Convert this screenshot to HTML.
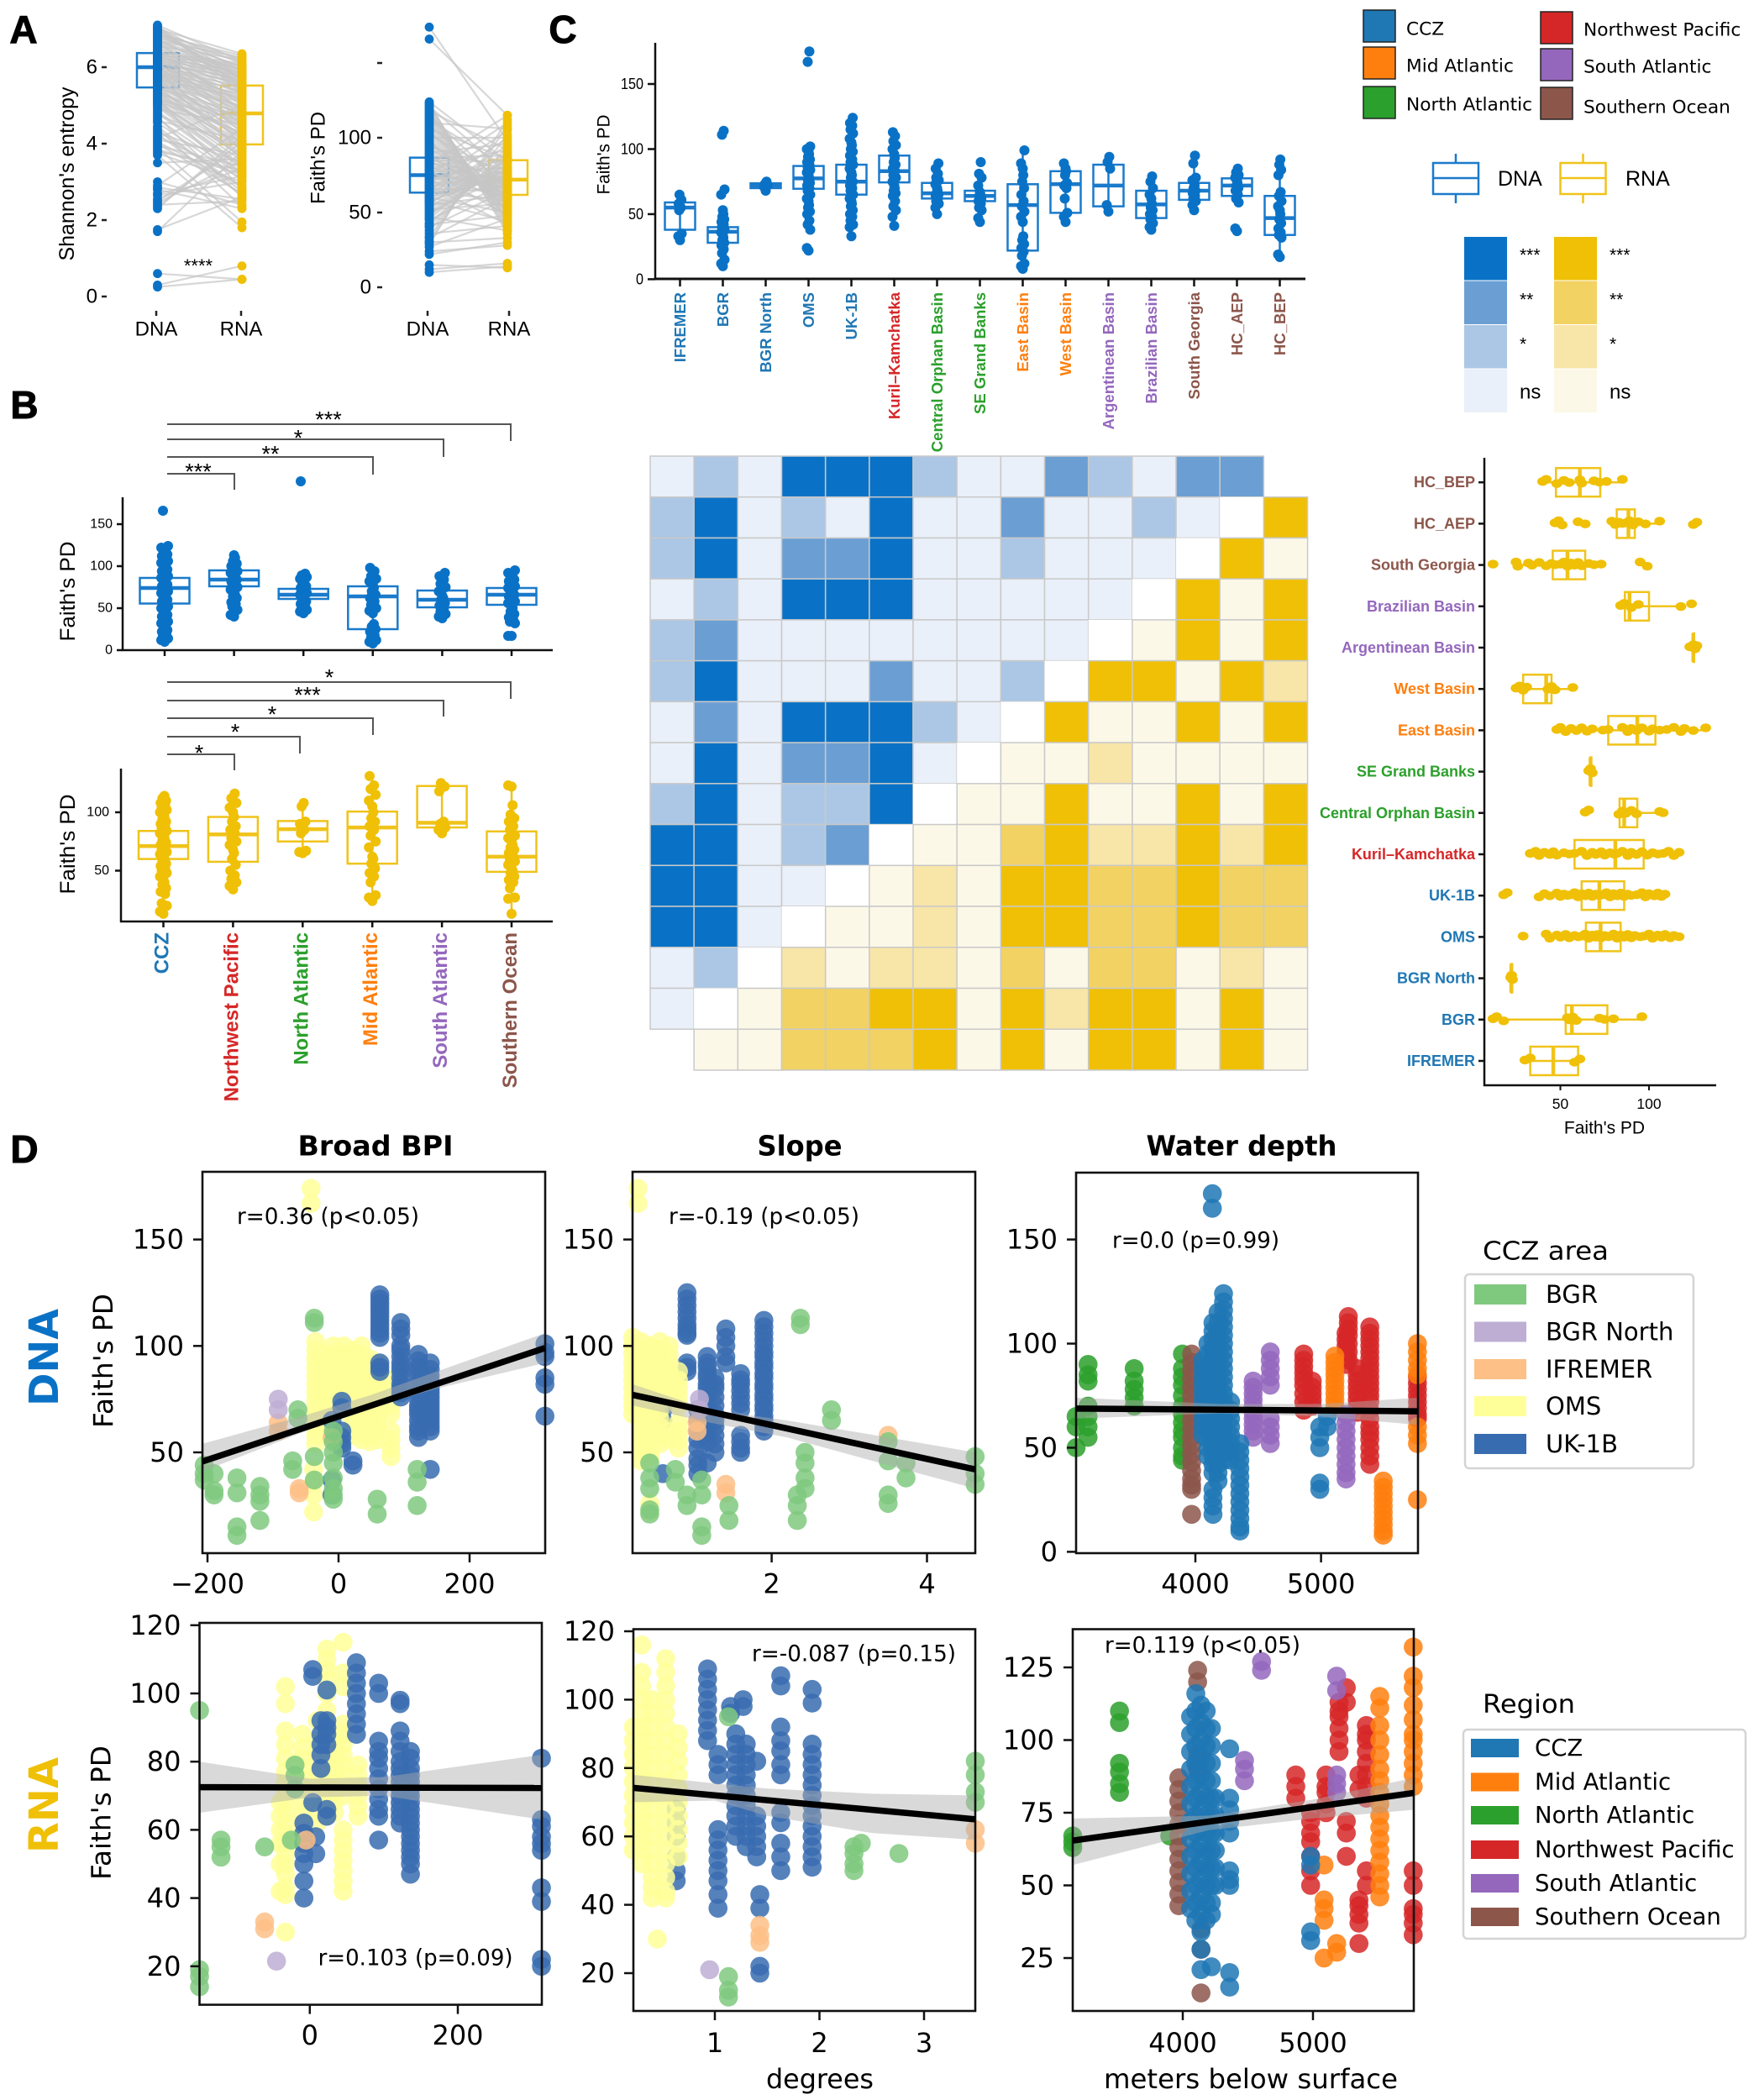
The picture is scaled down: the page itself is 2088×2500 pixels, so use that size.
<!DOCTYPE html>
<html lang="en">
<head>
<meta charset="utf-8">
<title>Faith's PD and Shannon's entropy across deep-sea regions</title>
<style>
html,body{margin:0;padding:0;background:#fff;}
svg{display:block;}
text{dominant-baseline:central;}
</style>
</head>
<body>
<svg id="figure" xmlns="http://www.w3.org/2000/svg" width="2088" height="2500" viewBox="0 0 2088 2500">
<rect x="0" y="0" width="2088" height="2500" fill="#ffffff"/>
<g id="panel-a"></g>
<g id="panel-b"></g>
<g id="panel-c"></g>
<g id="panel-d"></g>
<g id="legends"></g>
</svg>
<script>
/* ---------- shared categories ---------- */
const regionNames=["CCZ","Northwest Pacific","North Atlantic","Mid Atlantic","South Atlantic","Southern Ocean"];
const siteNames=["IFREMER","BGR","BGR North","OMS","UK-1B","Kuril–Kamchatka","Central Orphan Basin","SE Grand Banks","East Basin","West Basin","Argentinean Basin","Brazilian Basin","South Georgia","HC_AEP","HC_BEP"];
const legendRegions=["CCZ","Mid Atlantic","North Atlantic","Northwest Pacific","South Atlantic","Southern Ocean"];
const areaNames=["BGR","BGR North","IFREMER","OMS","UK-1B"];

/* ---------- panel A: paired samples ---------- */
const shannonTicks=[0,2,4,6];
const shannonDnaCore=[0.25,0.3,0.6,1.7,1.75,2.3,2.4,2.5,2.65,2.8,2.9,3.0,3.5,3.7,3.8,3.9,4.0,4.05,4.15,4.2,4.3,4.4,4.6,4.7,4.75,4.8,4.9,5.0,5.05,5.1,5.15,5.2,5.25,5.3,5.35,5.4,5.45,5.5,5.52,5.55,5.6,5.65,5.7,5.72,5.75,5.78,5.8,5.82,5.85,5.88,5.9,5.92,5.95,5.98,6.0,6.02,6.05,6.08,6.1,6.12,6.15,6.18,6.2,6.22,6.25,6.28,6.3,6.32,6.35,6.38,6.4,6.45,6.5,6.55,6.6,6.65,6.7,6.75,6.8,6.85,6.9,6.95,7.0,7.05,7.1];
const shannonRnaCore=[0.45,0.8,0.45,3.8,2.6,4.2,2.5,3.9,3.0,2.3,4.4,2.4,3.6,1.8,3.3,1.95,2.7,2.9,5.0,3.1,3.5,2.35,4.1,2.6,3.9,3.2,4.5,3.4,3.7,4.3,4.6,2.8,4.0,4.7,3.9,4.2,4.8,4.5,3.6,5.0,4.1,4.4,5.2,4.6,3.8,5.3,4.9,4.2,5.4,4.7,5.1,4.0,5.5,4.8,5.6,4.3,5.2,4.9,5.7,4.5,5.3,5.8,4.7,5.5,5.9,4.9,5.6,6.0,5.1,5.7,6.1,5.3,5.8,6.2,5.5,5.9,6.25,5.6,6.0,6.3,5.7,6.1,6.35,5.9,6.15];
const shannonDnaExtra=[4.45,4.55,4.65,4.85,4.95,5.02,5.08,5.12,5.18,5.22,5.28,5.32,5.38,5.42,5.48,5.58,5.62,5.68,5.74,5.76,5.83,5.86,5.93,5.96,6.03,6.06,6.13,6.16,6.23,6.26,6.33,6.36,6.42,6.48,6.52,6.58,6.62,6.68,6.72,6.78,6.82,6.88,6.92,6.98,7.02,7.08,3.75,3.85,3.95,4.1,4.25,4.35,2.35,2.45,2.55,2.7,2.85];
const shannonRnaExtra=[2.75,3.05,3.15,3.25,3.35,3.45,3.55,3.65,3.75,3.85,3.95,4.05,4.15,4.25,4.35,4.45,4.55,4.65,4.75,4.85,4.95,5.05,5.15,5.25,5.35,5.45,5.55,5.65,5.75,5.85,5.95,6.05,5.02,4.88,5.42,5.58,5.72,5.82,5.92,6.02,6.12,6.22,5.68,5.78,5.48,5.32,3.0,3.2,3.4,3.7,2.65,2.85,4.05,3.55,3.35,3.15,2.55];
const shannonDnaBox=[5.47,6.0,6.37];
const shannonRnaBox=[3.98,4.79,5.52];
const pdPairTicks=[0,50,100];
const pdPairDnaCore=[10,12,15,22,24,27,30,33,36,40,42,45,47,50,52,54,55,56,58,59,60,61,62,63,64,65,66,67,68,69,70,71,72,73,74,75,76,77,78,79,80,81,82,83,84,85,86,87,88,90,92,94,96,98,100,102,104,106,108,110,112,115,118,121,124,166,174];
const pdPairRnaCore=[14,16,13,30,28,46,33,60,41,65,48,70,38,75,56,82,62,85,44,90,50,68,95,72,58,100,64,78,42,105,70,53,86,74,60,110,66,80,48,92,72,56,115,76,62,84,68,88,58,96,70,78,64,52,100,74,60,86,68,106,80,66,92,76,84,115,98];
const pdPairDnaExtra=[29,31,34,38,41,43,46,48,49,51,53,57,57.5,58.5,60.5,62.5,64.5,66.5,68.5,70.5,72.5,74.5,76.5,78.5,80.5,82.5,84.5,86.5,89,91,93,95,97,99,101,103,105,107,109,111,113,114,116,117,119,120,122,123];
const pdPairRnaExtra=[112,108,102,94,90,88,86,84,82,80,79,78,77,76,75,74,73,72,71,70,69,68,67,66,65,64,63,62,61,60,59,58,57,56,55,54,52,51,50,49,47,46,45,44,42,40,38,36];
const pdPairDnaBox=[63.3,75,86.7];
const pdPairRnaBox=[61.8,72,85];

/* ---------- panel B: regions ---------- */
const regionDnaTicks=[0,50,100,150];
const regionDnaValues=[
[10,12,14,17,20,22,24,26,28,30,32,34,36,38,40,42,44,46,48,50,52,54,56,58,60,62,64,66,68,70,72,74,76,78,80,82,84,86,88,90,92,94,96,98,100,102,104,106,108,110,112,114,116,118,120,122,124,166],
[40,42,48,52,55,57,62,64,66,70,72,75,78,80,82,84,86,88,90,92,94,96,98,100,103,106,110,113],
[44,46,48,50,52,55,58,60,62,64,66,68,70,72,74,76,78,80,82,85,87,89,91,201],
[8,10,12,15,18,22,25,28,31,44,47,50,54,58,62,66,70,74,78,82,85,88,94,98],
[38,40,43,46,50,53,56,60,62,65,70,75,79,84,88,92],
[17,17,32,34,36,39,43,46,50,53,56,58,60,62,64,66,68,70,72,74,76,78,80,82,84,86,88,90,92,95]];
const regionDnaBoxes=[[55.5,74,86],[76,84,95],[61,66,73],[25,64,76],[51,60,71],[54,66,74]];
const regionRnaTicks=[50,100];
const regionRnaValues=[
[13,15,20,22,30,32,35,38,40,42,45,48,50,52,54,56,58,60,62,64,66,68,70,72,74,76,78,80,82,84,86,88,90,92,94,96,98,100,102,104,106,108,110,112,114],
[34,37,40,43,46,50,55,60,65,68,72,75,78,82,85,88,92,96,100,104,108,112,116],
[65,66,67,82,85,90,92,105,108],
[24,27,29,40,45,48,52,56,60,62,70,75,80,85,88,92,95,100,105,110,115,120,123,131],
[82,85,87,90,92,118,122,125],
[13,26,27,35,40,42,45,48,50,52,55,58,60,62,65,68,70,72,75,78,80,85,88,92,95,98,106,122,123]];
const regionRnaBoxes=[[60,71,84],[57.6,81,96],[75,85.5,92.5],[56,87,100.6],[87,91,122.5],[49,62,83.6]];

/* ---------- panel C: sites, DNA (vertical) and RNA (horizontal) ---------- */
const siteDnaTicks=[0,50,100,150];
const siteDnaValues=[
[30,33,35,53,55,58,61,65],
[10,12,15,20,23,26,28,30,32,34,36,38,40,42,44,46,48,50,53,65,69,111,114],
[68,71,72,73,75],
[22,24,38,42,45,50,52,55,57,60,62,65,68,70,72,74,76,78,80,82,84,86,88,90,92,94,96,98,100,102,167,175],
[33,40,42,45,48,50,53,56,58,60,62,65,68,70,72,75,78,80,82,85,88,90,92,95,98,100,103,105,108,112,115,118,120,124],
[41,48,53,56,60,64,66,68,70,72,75,78,80,83,85,88,90,93,96,100,103,106,110,113],
[50,55,58,60,62,64,65,66,68,70,73,76,78,81,85,89],
[44,47,53,55,58,60,62,64,65,67,72,78,81,90],
[8,10,12,18,21,24,27,30,33,44,48,52,56,60,65,70,75,80,85,89,99],
[44,48,51,62,70,72,74,80,83,85,89],
[52,57,85,90,94],
[38,40,43,46,48,50,53,55,58,62,65,70,75,79],
[53,57,60,62,64,66,68,70,72,74,76,78,89,95],
[37,39,59,62,65,68,70,72,74,76,78,80,82,85],
[17,19,32,34,36,39,43,46,50,53,56,60,64,67,80,84,88,92]];
const siteDnaBoxes=[[38,55,59],[28,36.5,40],[70,72,73.7],[69.5,77.5,87],[65,75,88],[74.4,83,95],[62,66,74],[60,64,68],[22,57,73],[51,73,83],[56,72,88],[47,57.5,68],[61,68,74],[64,72,77.5],[34,47,64]];
const siteRnaTicks=[50,100];
const siteRnaValues=[
[30,33,58,61],
[12,14,18,54,55,57,59,72,75,80,96],
[22,22.5,23],
[29,42,44,48,50,53,55,58,60,62,64,66,68,70,71,73,75,77,78,80,82,84,86,88,90,92,95,97,100,102,105,107,109,112,114,117],
[18,20,38,41,44,48,50,52,54,56,58,60,62,64,66,68,70,72,74,76,78,80,82,84,86,88,90,93,96,98,100,103,105,107,109],
[33,36,38,41,44,46,48,52,55,58,62,65,68,70,73,75,78,80,82,85,88,90,93,96,99,102,105,108,111,114,117],
[64,66,83,85,87,90,93,106,108],
[66,67,68],
[48,50,53,56,59,62,65,68,74,77,85,88,90,93,96,100,102,106,110,114,118,120,125,132],
[25,27,29,31,43,45,47,57],
[123,125,126,127],
[84,86,90,94,118,124],
[12,25,26,32,34,38,42,45,47,50,52,54,56,58,60,62,66,69,73,95,99],
[47,49,51,60,64,79,81,83,85,87,89,91,94,98,106,125,127],
[40,42,48,52,55,61,62,69,72,76,85]];
const siteRnaBoxes=[[33,46,60],[53,56.5,76.5],[22.3,22.3,22.3],[64.4,72.7,84],[62,72,86],[58,81,97],[83.4,86,93.4],[67,67,67],[77,93.4,103.6],[29,42,45],[125,125,125],[86.4,89,100],[45.7,54,64],[81.8,88.4,92],[47.5,61,72.5]];
/* significance: n,1,2,3 = DNA ns,*,**,***; y,a,b,c = RNA ns,*,**,***; . = diagonal */
const significanceRows=["n1n3331nn21n22 ","13n1n3nn2nn1n.c","13n223nn1nnn.cy","n1n333nnnnn.cyc","12nnnnnnnn.ycyc","13nnn2nn1.ccyca","n2n3331n.cyycyc","n3n223n.yyayyyy","13n113.yycyycyc","33n12.yybcaacac","33nn.yayccbbcbb","33n.yyayccbbcbb","n1.ayaaybybbyay","n.ybbccycaccycy"," yybbbcycyccycy"];
const significanceKeyLabels=["***","**","*","ns"];

/* ---------- panel D: scatter columns as [x,[y,...]] ---------- */
const bpiDnaBgr=[[-205,[44,40,37]],[-190,[40,32,30]],[-155,[38,31,15,11]],[-120,[34,30,27,18]],[-70,[46,42]],[-62,[70,66]],[-37,[113,111,48,37]],[-8,[60,55,50,45,38,33,30,28]],[59,[28,21]],[120,[42,36,25]]];
const bpiDnaNorth=[[-92,[75,70]]];
const bpiDnaIfremer=[[-92,[64,60]],[-60,[33,31]],[-10,[57]]];
const bpiDnaOms=[[-42,[174,167]],[-38,[42,36,30,22]],[-35,[102,98,94,90,86,82,78,74,70,66,62,58,54]],[-22,[96,92,88,84,80,76,72,68,64]],[-8,[100,96,92,88,84,80,76,72,68,64,60]],[8,[100,96,92,88,84,80,76]],[22,[98,94,90,86,82,78,74,70,66,62,58]],[35,[100,96,92,88,84,80,76,72,68,64,60,56]],[48,[94,90,86,82,78,74,70,66,62,58,55]],[60,[92,88,84,80,76,72,68,64,60,56]],[80,[84,80,72,68,60,56,52,48]]];
const bpiDnaUk=[[63,[124,122,120,118,116,114,112,110,108,106,104,92,90,88]],[95,[111,108,105,100,98,95,92,90,88,85,82,80,78,76]],[122,[96,93,90,88,85,82,80,78,75,72,70,68,65,62,60,57]],[140,[92,89,86,83,80,78,76,74,72,70,68,66,64,62,60,42]],[5,[74,71,60,57,54,52]],[22,[46,44]],[-10,[65,37,30]],[315,[101,97,95,85,82,67]]];
const bpiDnaFit=[[-208,45.7],[315,99]];
const bpiDnaCi=[[-208,41,54],[-50,60,67.5],[50,71,77],[150,80,88],[315,92,106]];
const slopeDnaBgr=[[2.37,[113,110]],[2.77,[70,65]],[3.5,[55,46,30,26]],[2.43,[50,45,38,33]],[2.33,[30,25,18]],[3.73,[45,38]],[4.62,[48,40,35]],[0.43,[45,38,33,23,21]],[0.76,[42,36]],[0.91,[30,25]],[1.1,[37,30,15,11]],[1.45,[25,18]]];
const slopeDnaNorth=[[1.07,[75,70]]];
const slopeDnaIfremer=[[3.5,[58]],[1.41,[35,31]],[1.04,[64,60]]];
const slopeDnaOms=[[0.28,[174,167]],[0.21,[104,100,96,92,88,84,80,76,72,68]],[0.32,[102,98,94,90,86,82,78,74,70,66,62,58,54,50,46]],[0.44,[100,96,92,88,84,80,76,72,68,64,60,56,52,48]],[0.56,[102,98,94,90,86,82,78,74,70,66,62,58,54]],[0.68,[100,96,92,88,84,80,76,60,56]],[0.8,[88,84,80,76,72,64,60,56,52]],[0.43,[22,26]]];
const slopeDnaUk=[[0.91,[125,122,119,116,113,110,108,106,105,92,90,88]],[1.17,[95,92,90,87,85,82,80,77,75,70,67,65,62,60,58,55,45]],[1.05,[70,65,60,56,52,47,44,40]],[1.41,[108,104,100,95,92]],[1.6,[87,84,82,79,76,73,70,58,55,52,50]],[1.9,[112,109,106,103,100,97,95,92,90,87,85,82,80,77,75,72,70,67,65,62,60]],[1.27,[85,82,80,76,72,68,65,62,58,54,50]],[0.6,[70,65,40]]];
const slopeDnaFit=[[0.21,77],[4.62,42]];
const slopeDnaCi=[[0.21,72,82],[1.2,64,70],[2.2,57,65],[3.5,44,57],[4.62,33,50]];
const depthDnaCcz=[[4135,[172,165]],[4224,[124,120,116,112,108,104,100,96,92,88,84,80,76,72,68,64,60,56,52,48,44]],[4180,[115,110,106,102,98,94,90,86,82,78,74,70,66,62,58,54,50,46,42,38,34]],[4140,[110,106,102,98,94,90,86,82,78,74,70,66,62,58,54,50,46,42,38,30,26,22,18]],[4100,[100,95,90,86,82,78,74,70,66,62,58,54,50,46]],[4060,[92,88,84,80,76,72,68,64,60,56]],[4280,[72,68,64,60,56,52,48,44]],[4354,[52,48,44,40,36,32,28,24,20,16,12,10]],[4990,[60,55,50,33,30]],[5050,[65,60]]];
const depthDnaMid=[[5110,[94,91,88,85,82,79,76,73,70]],[5495,[34,31,28,25,22,19,16,13,10,8]],[5767,[100,96,92,88,85,60,56,52,25]]];
const depthDnaNorth=[[3146,[90,85,82,70,65,60,55]],[3051,[50,60,65]],[3513,[88,82,78,74,70]],[3897,[95,88,84,80,75,70,66,62,58,55,50,46,44]]];
const depthDnaNw=[[4862,[95,92,89,86,83,80,76,72,68]],[4930,[82,79,76,73,70]],[5199,[105,102,99,96,93,90]],[5217,[113,110,107,104,100,96,92]],[5288,[88,85,82,79,76,73,70,67]],[5388,[108,105,102,99,96,93,90,87,84,81,78,75,72,68,64,60,57,54,50,46,42]],[5767,[84,81,78,75,72,69,66,64]]];
const depthDnaSouth=[[4460,[82,79,76,73,70,67,64,61,58,55]],[4596,[96,92,88,84,80,64,60,56,52]],[5199,[66,62,58,54,50,46,42,38,35]]];
const depthDnaOcean=[[3970,[95,91,87,83,79,75,71,67,63,59,55,51,47,43,39,35,32,30,18]]];
const depthDnaFit=[[3051,68.8],[5769,67.5]];
const depthDnaCi=[[3051,64,74],[4200,66.5,71],[5000,65,71],[5769,61,74]];
const bpiRnaBgr=[[-149,[95,19,17,14]],[-120,[57,55,52]],[-61,[55]],[-20,[79,76,72]],[-25,[57]]];
const bpiRnaNorth=[[-45,[21.5]]];
const bpiRnaIfremer=[[-61,[33,31]],[-5,[57]]];
const bpiRnaOms=[[-33,[102,97,89,85,81,77,74,71,68,65,62,59,56,53,50,47,43,41,30]],[-10,[88,84,81,78,75,72,68,65,62,59,56]],[10,[92,86,83,80,77,74,71,68,65,62]],[23,[113,110,107,104,100,95,88,85,82,79,76,73,70,67,64]],[33,[86,83,80,77,74,71,68,65]],[45,[115,106,102,91,88,85,82,79,76,73,70,60,57,54,51,48,45,42]],[65,[79,76,73,70,67,64]],[-40,[68,64,60,56,50,42]]];
const bpiRnaUk=[[-8,[62,59,56,53,50,45,40]],[4,[107,105,68]],[15,[92,88,85,82,78]],[23,[101,92,90,88,85,66,64]],[63,[109,106,103,100,97,94,91,88]],[93,[103,100,86,83,81,78,75,72,69,66,64,57]],[122,[98,97,89,86,83,80,78,76,74,72,70,68,66,64,62]],[136,[83,81,78,76,74,72,70,68,66,64,62,60,58,56,54,52,50,47]],[313,[81,63,61,58,56,54,43,39,22,20]],[8,[58,53]]];
const bpiRnaFit=[[-149,72.5],[313,72.3]];
const bpiRnaCi=[[-149,65,80],[0,69.5,75],[100,70,75.5],[313,63,82]];
const slopeRnaBgr=[[1.13,[95,19,15,13]],[2.33,[57,55,52,50]],[2.4,[58]],[2.76,[55]],[3.49,[82,78,73,70]]];
const slopeRnaNorth=[[0.95,[21]]];
const slopeRnaIfremer=[[1.43,[34,31,29]],[3.49,[62,58]]];
const slopeRnaOms=[[0.22,[92,88,84,80,76,72,68,64,60,56]],[0.3,[116,108,104,100,96,92,88,84,80,76,72,68,64,60,56,52]],[0.4,[100,96,92,88,84,80,76,72,68,64,60,56,52,48,45,42]],[0.53,[112,108,104,100,96,92,88,84,80,76,72,68,64,60,56,52,48,44,42]],[0.65,[90,86,82,78,74,70,66,62,58,54]],[0.45,[30]]];
const slopeRnaUk=[[0.93,[109,106,103,100,97,94,91,88]],[1.03,[84,81,78,62,59,56,53,50,47,43,39]],[1.15,[98,96]],[1.27,[100,98]],[1.2,[90,87,84,81,78,75,72,69,66,63,60]],[1.3,[87,84,81,78,75,72,69,66,63,60,57]],[1.43,[43,39,22,20]],[1.4,[82,66,63,60,57,54]],[1.63,[107,104,92,88,85,81,78,67,64,58,54,50]],[1.93,[103,99,87,84,81,78,75,72,69,66,63,60,57,54,51]],[0.63,[54,50,47,68,64,60]]];
const slopeRnaFit=[[0.22,74.2],[3.49,65]];
const slopeRnaCi=[[0.22,70,78],[1.0,70.5,75.5],[1.5,66,74],[2.5,61,72.5],[3.49,59,72]];
const depthRnaCcz=[[4060,[108,102,96,90,84,78,72,66,60,54,48,42]],[4100,[116,110,104,98,92,86,80,74,68,62,56,50,44,38]],[4140,[112,106,100,94,88,82,76,70,64,58,52,46,40,34,28,21]],[4180,[110,104,98,92,86,80,74,68,62,56,50,44,38]],[4220,[104,98,92,86,80,74,68,62,56,50,44,40,22]],[4250,[80,74,68,62,56,50]],[4360,[97,80,76,72,68,55,52,50,20,15]],[4982,[60,57,34,31]]];
const depthRnaMid=[[5085,[57,45,42,38,25]],[5182,[30,27]],[5513,[115,111,105,100,95,90,86,82,78,74,70,66,62,58,54,50,46]],[5770,[132,122,118,112,107,102,100,96,92,88,84]]];
const depthRnaNorth=[[3155,[67,65,63]],[3514,[110,106,92,89,85,82]],[3900,[67]]];
const depthRnaNw=[[4868,[88,84,80]],[4982,[75,72,68,65,60,55,50]],[5100,[88,84,82,78,75]],[5200,[113,110,108,104,100,96]],[5256,[118,113,72,68,60]],[5353,[88,83,45,43,40,37,30]],[5410,[105,102,100,96,92,88,84,80,55,50]],[5770,[55,50,42,40,37,33]]];
const depthRnaSouth=[[4605,[127,124]],[4474,[93,90,86]],[5182,[122,117,88,85,82]]];
const depthRnaOcean=[[3970,[87,83,79,75,71,67,63,59,55,51,47,43]],[4114,[124,120,95,90]],[4140,[35,28,13]]];
const depthRnaFit=[[3155,65.4],[5774,81.8]];
const depthRnaCi=[[3155,57,73],[4200,69,74],[5000,73,79.5],[5774,76,87]];
const bpiDnaYTicks=[50,100,150];
const bpiDnaXTicks=[-200,0,200];
const slopeDnaXTicks=[2,4];
const depthDnaYTicks=[0,50,100,150];
const depthXTicks=[4000,5000];
const pdRnaYTicks=[20,40,60,80,100,120];
const bpiRnaXTicks=[0,200];
const slopeRnaXTicks=[1,2,3];
const depthRnaYTicks=[25,50,75,100,125];

/* ---------- styling and helpers ---------- */
const BLUE="#0a72c6",GOLD="#efc006",BLUE_BOX="#1a7acb",GOLD_BOX="#f0c31a";
const SANS='"Liberation Sans", sans-serif',DEJA='"DejaVu Sans", sans-serif';
const regionColors={"CCZ":"#1f77b4","Northwest Pacific":"#d62728","North Atlantic":"#2ca02c","Mid Atlantic":"#ff7f0e","South Atlantic":"#9467bd","Southern Ocean":"#8c564b"};
const areaColors={"BGR":"#7fc97f","BGR North":"#beaed4","IFREMER":"#fdc086","OMS":"#ffff99","UK-1B":"#386cb0"};
const siteColors=["#1f77b4","#1f77b4","#1f77b4","#1f77b4","#1f77b4","#d62728","#2ca02c","#2ca02c","#ff7f0e","#ff7f0e","#9467bd","#9467bd","#8c564b","#8c564b","#8c564b"];
const cellColors={n:"#eaf0f9","1":"#abc7e5","2":"#6b9fd4","3":BLUE,y:"#fcf8e8",a:"#f8e5a8",b:"#f2d262",c:GOLD,".":"#ffffff"};
const jitterCycle=[0,-1,1,-0.5,0.5,-0.8,0.8,-0.3,0.3];
const NS="http://www.w3.org/2000/svg";
function slug(s){return String(s).toLowerCase().replace(/[^a-z0-9]+/g,"-").replace(/^-|-$/g,"");}
function mk(parent,tag,attrs,name){
  const el=document.createElementNS(NS,tag);
  for(const k in attrs){el.setAttribute(k,attrs[k]);}
  
  
  parent.appendChild(el);
  return el;
}
function linear(d0,r0,d1,r1){return v=>r0+(v-d0)*(r1-r0)/(d1-d0);}
function line(p,x1,y1,x2,y2,stroke,w,name){return mk(p,"line",{x1:x1,y1:y1,x2:x2,y2:y2,stroke:stroke,"stroke-width":w},name);}
function txt(p,name,s,x,y,o){
  o=o||{};
  const a={x:x,y:y,"font-family":o.fam||SANS,"font-size":o.size||24,"font-weight":o.weight||"normal",fill:o.fill||"#000","text-anchor":o.anchor||"middle"};
  if(o.rot){a.transform="rotate("+o.rot+" "+x+" "+y+")";}
  if(o.len){a.textLength=o.len;a.lengthAdjust="spacingAndGlyphs";}
  if(o.stroke){a.stroke=o.stroke;a["stroke-width"]=o.sw||1;}
  const el=mk(p,"text",a,name);
  el.textContent=s;
  return el;
}
function stars(p,name,s,x,y,size){return txt(p,name,s,x,y+0.2*size,{size:size});}
function whiskerRange(vals,b){
  const iqr=b[2]-b[0],lo=b[0]-1.5*iqr,hi=b[2]+1.5*iqr;
  const inside=vals.filter(v=>v>=lo&&v<=hi);
  return inside.length?[Math.min.apply(null,inside),Math.max.apply(null,inside)]:[b[0],b[2]];
}
function boxV(p,name,cx,hw,y,b,vals,color){
  const g=mk(p,"g",{},name+"-box");
  const r=whiskerRange(vals,b);
  line(g,cx,y(r[0]),cx,y(r[1]),color,2.5,name+"-whisker");
  mk(g,"rect",{x:cx-hw,y:y(b[2]),width:2*hw,height:y(b[0])-y(b[2]),fill:"none",stroke:color,"stroke-width":2.5},name+"-iqr");
  line(g,cx-hw,y(b[1]),cx+hw,y(b[1]),color,4.5,name+"-median");
}
function boxH(p,name,cy,hh,x,b,vals,color){
  const g=mk(p,"g",{},name+"-box");
  const r=whiskerRange(vals,b);
  line(g,x(r[0]),cy,x(r[1]),cy,color,2.5,name+"-whisker");
  mk(g,"rect",{x:x(b[0]),y:cy-hh,width:Math.max(x(b[2])-x(b[0]),1),height:2*hh,fill:"none",stroke:color,"stroke-width":2.5},name+"-iqr");
  line(g,x(b[1]),cy-hh,x(b[1]),cy+hh,color,4.5,name+"-median");
}
function dotsV(p,name,cx,vals,y,r,color,spread){
  const g=mk(p,"g",{},name+"-points");
  vals.forEach((v,i)=>{mk(g,"circle",{cx:cx+spread*jitterCycle[i%jitterCycle.length],cy:y(v),r:r,fill:color},name+"-point");});
}
function dotsH(p,name,cy,vals,x,r,color,spread){
  const g=mk(p,"g",{},name+"-points");
  vals.forEach((v,i)=>{mk(g,"ellipse",{cx:x(v),cy:cy+spread*jitterCycle[i%jitterCycle.length],rx:r+1.2,ry:r,fill:color},name+"-point");});
}
function bracket(p,name,x0,x1,y0,y1){mk(p,"polyline",{points:x0+","+y0+" "+x1+","+y0+" "+x1+","+y1,fill:"none",stroke:"#555","stroke-width":2},name);}

const pa=document.getElementById("panel-a"),pb=document.getElementById("panel-b"),pc=document.getElementById("panel-c"),pd=document.getElementById("panel-d"),lg=document.getElementById("legends");
const LETTER={size:46,weight:"bold",stroke:"#000",sw:1};
txt(pa,"panel-letter-a","A",28,35,LETTER);
txt(pb,"panel-letter-b","B",29,482,LETTER);
txt(pc,"panel-letter-c","C",670,35,LETTER);
txt(pd,"panel-letter-d","D",29,1368,LETTER);

/* ---------- panel A ---------- */
(function(){
  const shDna=shannonDnaCore.concat(shannonDnaExtra),shRna=shannonRnaCore.concat(shannonRnaExtra);
  const pdDna=pdPairDnaCore.concat(pdPairDnaExtra),pdRna=pdPairRnaCore.concat(pdPairRnaExtra);
  const y1=linear(0,353,6,80),y2=linear(0,342,100,164);
  shannonTicks.forEach(t=>{
    line(pa,121,y1(t),127,y1(t),"#222",2.5,"shannon-y-tick");
    txt(pa,"shannon-y-tick-label",t,116,y1(t),{size:24,anchor:"end"});
  });
  txt(pa,"shannon-y-axis-title","Shannon's entropy",80,207,{size:25,rot:-90,len:207});
  boxV(pa,"shannon-dna",188,25,y1,shannonDnaBox,[],BLUE_BOX);
  boxV(pa,"shannon-rna",288,25,y1,shannonRnaBox,[],GOLD_BOX);
  const n1=Math.min(shDna.length,shRna.length);
  const lg1=mk(pa,"g",{},"shannon-pair-lines");
  for(let i=0;i<n1;i++){mk(lg1,"line",{x1:187.5,y1:y1(shDna[i]),x2:288,y2:y1(shRna[i]),stroke:"#c6c6c6","stroke-width":2.2,"stroke-opacity":0.7},"shannon-pair-line");}
  dotsV(pa,"shannon-dna",187.5,shDna,y1,5.4,BLUE,0);
  dotsV(pa,"shannon-rna",288,shRna,y1,5.4,GOLD,0);
  stars(pa,"shannon-significance","****",236,312,22);
  [[186,"DNA"],[287,"RNA"]].forEach(d=>{
    line(pa,d[0],370,d[0],376,"#222",2.5,"shannon-x-tick");
    txt(pa,"shannon-x-label-"+slug(d[1]),d[1],d[0],392,{size:24});
  });
  pdPairTicks.forEach(t=>{
    line(pa,449,y2(t),455,y2(t),"#222",2.5,"pd-pair-y-tick");
    txt(pa,"pd-pair-y-tick-label",t,442,y2(t),{size:24,anchor:"end"});
  });
  line(pa,449,y2(150),455,y2(150),"#222",2.5,"pd-pair-y-tick");
  txt(pa,"pd-pair-y-axis-title","Faith's PD",379,188,{size:24,rot:-90,len:110});
  boxV(pa,"pd-pair-dna",511,23,y2,pdPairDnaBox,[],BLUE_BOX);
  boxV(pa,"pd-pair-rna",605,23,y2,pdPairRnaBox,[],GOLD_BOX);
  const n2=Math.min(pdDna.length,pdRna.length);
  const lg2=mk(pa,"g",{},"pd-pair-lines");
  for(let i=0;i<n2;i++){mk(lg2,"line",{x1:511,y1:y2(pdDna[i]),x2:604,y2:y2(pdRna[i]),stroke:"#c6c6c6","stroke-width":2.2,"stroke-opacity":0.7},"pd-pair-line");}
  dotsV(pa,"pd-pair-dna",511,pdDna,y2,5.4,BLUE,0);
  dotsV(pa,"pd-pair-rna",604,pdRna,y2,5.4,GOLD,0);
  [[509,"DNA"],[606,"RNA"]].forEach(d=>{
    line(pa,d[0],370,d[0],376,"#222",2.5,"pd-pair-x-tick");
    txt(pa,"pd-pair-x-label-"+slug(d[1]),d[1],d[0],392,{size:24});
  });
})();

/* ---------- panel B ---------- */
(function(){
  const y1=linear(0,774,150,624),y2=linear(50,1036.5,100,967);
  const x1=i=>196+82.6*i,x2=i=>194.5+82.9*i;
  bracket(pb,"dna-bracket-southern-ocean",199,608,505,525);
  bracket(pb,"dna-bracket-south-atlantic",199,528,523,544);
  bracket(pb,"dna-bracket-mid-atlantic",199,444,544,565);
  bracket(pb,"dna-bracket-northwest-pacific",199,279,564,583);
  stars(pb,"dna-stars-southern-ocean","***",391,494,27);
  stars(pb,"dna-stars-south-atlantic","*",355,516,27);
  stars(pb,"dna-stars-mid-atlantic","**",322,535,27);
  stars(pb,"dna-stars-northwest-pacific","***",236,556,27);
  line(pb,146,592,146,775,"#111",2.5,"region-dna-y-axis");
  line(pb,145,774,658,774,"#111",2.5,"region-dna-x-axis");
  regionDnaTicks.forEach(t=>{
    line(pb,139,y1(t),146,y1(t),"#111",2.5,"region-dna-y-tick");
    txt(pb,"region-dna-y-tick-label",t,134,y1(t),{size:16,anchor:"end"});
  });
  txt(pb,"region-dna-y-axis-title","Faith's PD",81,704,{size:25,rot:-90,len:119});
  regionNames.forEach((n,i)=>{
    const s="region-dna-"+slug(n);
    line(pb,x1(i),774,x1(i),781,"#111",2.5,s+"-tick");
    boxV(pb,s,x1(i),29.5,y1,regionDnaBoxes[i],regionDnaValues[i],BLUE_BOX);
    dotsV(pb,s,x1(i),regionDnaValues[i],y1,6,BLUE,4);
  });
  bracket(pb,"rna-bracket-southern-ocean",199,608,812,832);
  bracket(pb,"rna-bracket-south-atlantic",199,528,834,853);
  bracket(pb,"rna-bracket-mid-atlantic",199,444,855,875);
  bracket(pb,"rna-bracket-north-atlantic",199,357,877,897);
  bracket(pb,"rna-bracket-northwest-pacific",199,279,898,917);
  stars(pb,"rna-stars-southern-ocean","*",392,801,27);
  stars(pb,"rna-stars-south-atlantic","***",366,822,27);
  stars(pb,"rna-stars-mid-atlantic","*",324,845,27);
  stars(pb,"rna-stars-north-atlantic","*",280,866,27);
  stars(pb,"rna-stars-northwest-pacific","*",237,891,27);
  line(pb,144,915,144,1098,"#111",2.5,"region-rna-y-axis");
  line(pb,143,1097,658,1097,"#111",2.5,"region-rna-x-axis");
  regionRnaTicks.forEach(t=>{
    line(pb,137,y2(t),144,y2(t),"#111",2.5,"region-rna-y-tick");
    txt(pb,"region-rna-y-tick-label",t,130,y2(t),{size:16,anchor:"end"});
  });
  txt(pb,"region-rna-y-axis-title","Faith's PD",81,1005,{size:25,rot:-90,len:119});
  regionNames.forEach((n,i)=>{
    const s="region-rna-"+slug(n);
    line(pb,x2(i),1097,x2(i),1104,"#111",2.5,s+"-tick");
    boxV(pb,s,x2(i),29.5,y2,regionRnaBoxes[i],regionRnaValues[i],GOLD_BOX);
    dotsV(pb,s,x2(i),regionRnaValues[i],y2,6,GOLD,4);
    txt(pb,s+"-label",n,x2(i)-1.5,1110,{size:24,weight:"bold",fill:regionColors[n],rot:-90,anchor:"end"});
  });
})();

/* ---------- panel C ---------- */
(function(){
  const y=linear(0,332.4,150,100),x=i=>809.5+51*i;
  line(pc,780,51,780,333,"#111",2.5,"site-dna-y-axis");
  line(pc,779,332,1554,332,"#111",3,"site-dna-x-axis");
  siteDnaTicks.forEach(t=>{
    line(pc,771,y(t),780,y(t),"#111",2.5,"site-dna-y-tick");
    txt(pc,"site-dna-y-tick-label",t,766,y(t),{size:18,anchor:"end",len:t>=100?27:(t>=10?18:9)});
  });
  txt(pc,"site-dna-y-axis-title","Faith's PD",719,184,{size:21,rot:-90,len:95});
  siteNames.forEach((n,i)=>{
    const s="site-dna-"+slug(n);
    line(pc,x(i),332,x(i),341,"#111",2.5,s+"-tick");
    boxV(pc,s,x(i),18,y,siteDnaBoxes[i],siteDnaValues[i],BLUE_BOX);
    dotsV(pc,s,x(i),siteDnaValues[i],y,6,BLUE,2);
    txt(pc,s+"-label",n,x(i),348,{size:18.5,weight:"bold",fill:siteColors[i],rot:-90,anchor:"end"});
  });

  /* pairwise significance heatmap */
  const hm=mk(pc,"g",{},"pairwise-significance-heatmap");
  const cx=c=>774+c*52.17,cy=r=>543+r*48.73;
  significanceRows.forEach((row,r)=>{
    row.split("").forEach((code,c)=>{
      if(code===" ")return;
      mk(hm,"rect",{x:cx(c),y:cy(r),width:52.17,height:48.73,fill:cellColors[code],stroke:code==="."?"none":"#c9c9c9","stroke-width":1.5},"heatmap-cell");
    });
  });

  /* horizontal RNA strip */
  const sx=linear(50,1857.5,100,1963),sy=i=>1263-49.2*i;
  line(pc,1767,545,1767,1293,"#111",2.5,"site-rna-y-axis");
  line(pc,1766,1292,2043,1292,"#111",2.5,"site-rna-x-axis");
  siteRnaTicks.forEach(t=>{
    line(pc,sx(t),1292,sx(t),1298,"#111",2,"site-rna-x-tick");
    txt(pc,"site-rna-x-tick-label",t,sx(t),1314,{size:17.5});
  });
  txt(pc,"site-rna-x-axis-title","Faith's PD",1910,1343,{size:21});
  siteNames.forEach((n,i)=>{
    const s="site-rna-"+slug(n);
    line(pc,1760,sy(i),1767,sy(i),"#111",2.5,s+"-tick");
    boxH(pc,s,sy(i),17,sx,siteRnaBoxes[i],siteRnaValues[i],GOLD_BOX);
    dotsH(pc,s,sy(i)-1,siteRnaValues[i],sx,5.2,GOLD,2.5);
    txt(pc,s+"-label",n,1756,sy(i),{size:18,weight:"bold",fill:siteColors[i],anchor:"end"});
  });
})();

/* ---------- top-right legends ---------- */
(function(){
  const rows1=[[1623,12],[1623,56],[1623,103]],rows2=[[1834,14],[1834,58],[1834,104]];
  const textY=[35,79,125,36,80,128];
  legendRegions.forEach((n,i)=>{
    const pos=i<3?rows1[i]:rows2[i-3];
    const s="region-legend-"+slug(n);
    mk(lg,"rect",{x:pos[0],y:pos[1],width:38,height:38,fill:regionColors[n],stroke:"#222","stroke-width":1.5},s+"-swatch");
    txt(lg,s+"-label",n,i<3?1674:1885,textY[i],{fam:DEJA,size:21.7,anchor:"start"});
  });
  [[1733,"DNA",BLUE_BOX,1783],[1884.5,"RNA",GOLD_BOX,1935]].forEach(d=>{
    const s="box-legend-"+slug(d[1]);
    line(lg,d[0],183,d[0],194,d[2],2.5,s+"-upper-whisker");
    line(lg,d[0],231,d[0],242,d[2],2.5,s+"-lower-whisker");
    mk(lg,"rect",{x:d[0]-27,y:194,width:54,height:37,fill:"none",stroke:d[2],"stroke-width":2.5},s+"-box");
    line(lg,d[0]-27,212,d[0]+27,212,d[2],2.5,s+"-median");
    txt(lg,s+"-label",d[1],d[3],213,{size:25,anchor:"start"});
  });
  const keyY=[282,334.5,387,439.5];
  const keyTextY=[303,356,409];
  [[1743,"3","2","1","n",1809,"dna"],[1850,"c","b","a","y",1916,"rna"]].forEach(k=>{
    for(let i=0;i<4;i++){
      mk(lg,"rect",{x:k[0],y:keyY[i],width:51,height:51.5,fill:cellColors[k[i+1]]},"significance-key-"+k[6]+"-"+slug(significanceKeyLabels[i]==="ns"?"ns":"level-"+(3-i)));
      if(i<3){stars(lg,"significance-key-"+k[6]+"-stars",significanceKeyLabels[i],k[5],keyTextY[i]-3,21).setAttribute("text-anchor","start");}
      else{txt(lg,"significance-key-"+k[6]+"-ns",significanceKeyLabels[i],k[5],467,{size:24,anchor:"start"});}
    }
  });
})();

/* ---------- panel D ---------- */
function scatterPanel(o){
  const g=mk(pd,"g",{},o.name);
  const x=linear(o.xd[0],o.xd[1],o.xd[2],o.xd[3]),y=linear(o.yd[0],o.yd[1],o.yd[2],o.yd[3]);
  o.series.forEach(s=>{
    const sg=mk(g,"g",{},o.name+"-"+slug(s.label));
    s.columns.forEach(col=>{
      col[1].forEach(v=>{mk(sg,"circle",{cx:x(col[0]),cy:y(v),r:11.3,fill:s.color,"fill-opacity":0.85},o.name+"-point");});
    });
  });
  const f=o.frame;
  const ci=o.ci;
  const pts=ci.map(c=>x(c[0])+","+y(c[1])).concat(ci.slice().reverse().map(c=>x(c[0])+","+y(c[2])));
  mk(g,"polygon",{points:pts.join(" "),fill:"#aaaaaa","fill-opacity":0.45},o.name+"-confidence-band");
  mk(g,"rect",{x:f[0],y:f[1],width:f[2]-f[0],height:f[3]-f[1],fill:"none",stroke:"#111","stroke-width":2.6},o.name+"-frame");
  line(g,x(o.fit[0][0]),y(o.fit[0][1]),x(o.fit[1][0]),y(o.fit[1][1]),"#000",7.5,o.name+"-regression-line");
  o.yTicks.forEach(t=>{
    line(g,f[0]-11,y(t),f[0],y(t),"#111",2.5,o.name+"-y-tick");
    txt(g,o.name+"-y-tick-label",t,f[0]-22,y(t),{fam:DEJA,size:32,anchor:"end"});
  });
  o.xTicks.forEach(t=>{
    line(g,x(t),f[3],x(t),f[3]+11,"#111",2.5,o.name+"-x-tick");
    txt(g,o.name+"-x-tick-label",String(t).replace("-","−"),x(t),o.xLabelY,{fam:DEJA,size:32});
  });
  txt(g,o.name+"-annotation",o.note[0],o.note[1],o.note[2],{fam:DEJA,size:27,anchor:"start",len:o.note[3]});
  if(o.yTitle){txt(g,o.name+"-y-axis-title","Faith's PD",o.yTitle[0],o.yTitle[1],{fam:DEJA,size:32,rot:-90,len:160});}
  if(o.title){txt(g,o.name+"-title",o.title[0],o.title[1],1364,{fam:DEJA,size:33,weight:"bold",len:o.title[2]});}
  if(o.xTitle){txt(g,o.name+"-x-axis-title",o.xTitle[0],o.xTitle[1],2475,{fam:DEJA,size:32,len:o.xTitle[2]});}
}
/* omsFront: OMS overlaps UK-1B in the slope panels, UK-1B overlaps OMS in the BPI panels */
function areaSeries(oms,uk,ifr,north,bgr,omsFront){
  const omsS={label:"OMS",color:areaColors["OMS"],columns:oms},ukS={label:"UK-1B",color:areaColors["UK-1B"],columns:uk};
  return (omsFront?[ukS,omsS]:[omsS,ukS]).concat([{label:"IFREMER",color:areaColors["IFREMER"],columns:ifr},{label:"BGR North",color:areaColors["BGR North"],columns:north},{label:"BGR",color:areaColors["BGR"],columns:bgr}]);
}
function regionSeries(north,ocean,south,nw,mid,ccz){
  return [{label:"North Atlantic",color:regionColors["North Atlantic"],columns:north},{label:"Northwest Pacific",color:regionColors["Northwest Pacific"],columns:nw},{label:"Mid Atlantic",color:regionColors["Mid Atlantic"],columns:mid},{label:"South Atlantic",color:regionColors["South Atlantic"],columns:south},{label:"Southern Ocean",color:regionColors["Southern Ocean"],columns:ocean},{label:"CCZ",color:regionColors["CCZ"],columns:ccz}];
}
scatterPanel({name:"bpi-dna",frame:[241,1395,649,1849],xd:[0,403,200,559],yd:[50,1729,150,1475.6],series:areaSeries(bpiDnaOms,bpiDnaUk,bpiDnaIfremer,bpiDnaNorth,bpiDnaBgr,false),ci:bpiDnaCi,fit:bpiDnaFit,yTicks:bpiDnaYTicks,xTicks:bpiDnaXTicks,xLabelY:1885.5,note:["r=0.36 (p<0.05)",282,1448.5,217],yTitle:[123,1620],title:["Broad BPI",447,185]});
scatterPanel({name:"slope-dna",frame:[753,1395,1161,1849],xd:[2,918.6,4,1103.5],yd:[50,1729,150,1475.6],series:areaSeries(slopeDnaOms,slopeDnaUk,slopeDnaIfremer,slopeDnaNorth,slopeDnaBgr,true),ci:slopeDnaCi,fit:slopeDnaFit,yTicks:bpiDnaYTicks,xTicks:slopeDnaXTicks,xLabelY:1885.5,note:["r=-0.19 (p<0.05)",796,1448.5,227],title:["Slope",952,101]});
scatterPanel({name:"depth-dna",frame:[1281,1396,1688,1849],xd:[4000,1423,5000,1572.6],yd:[0,1847.4,150,1475.6],series:regionSeries(depthDnaNorth,depthDnaOcean,depthDnaSouth,depthDnaNw,depthDnaMid,depthDnaCcz),ci:depthDnaCi,fit:depthDnaFit,yTicks:depthDnaYTicks,xTicks:depthXTicks,xLabelY:1885.5,note:["r=0.0 (p=0.99)",1324,1477,199],title:["Water depth",1478,227]});
scatterPanel({name:"bpi-rna",frame:[237.5,1932,645,2386.6],xd:[0,368.8,200,545],yd:[20,2340.8,120,1934.8],series:areaSeries(bpiRnaOms,bpiRnaUk,bpiRnaIfremer,bpiRnaNorth,bpiRnaBgr,false),ci:bpiRnaCi,fit:bpiRnaFit,yTicks:pdRnaYTicks,xTicks:bpiRnaXTicks,xLabelY:2423,note:["r=0.103 (p=0.09)",378.6,2331,232],yTitle:[120.5,2158]});
scatterPanel({name:"slope-rna",frame:[754,1939.5,1161,2394],xd:[1,851,3,1100],yd:[20,2349,120,1942],series:areaSeries(slopeRnaOms,slopeRnaUk,slopeRnaIfremer,slopeRnaNorth,slopeRnaBgr,true),ci:slopeRnaCi,fit:slopeRnaFit,yTicks:pdRnaYTicks,xTicks:slopeRnaXTicks,xLabelY:2432,note:["r=-0.087 (p=0.15)",895,1969,243],xTitle:["degrees",976,128]});
scatterPanel({name:"depth-rna",frame:[1277,1939.5,1683,2394],xd:[4000,1408,5000,1563],yd:[25,2331,125,1985],series:regionSeries(depthRnaNorth,depthRnaOcean,depthRnaSouth,depthRnaNw,depthRnaMid,depthRnaCcz),ci:depthRnaCi,fit:depthRnaFit,yTicks:depthRnaYTicks,xTicks:depthXTicks,xLabelY:2432,note:["r=0.119 (p<0.05)",1315,1959,233],xTitle:["meters below surface",1489,350]});

txt(pd,"dna-row-label","DNA",53,1616,{fam:DEJA,size:48,weight:"bold",fill:BLUE,rot:-90,len:116});
txt(pd,"rna-row-label","RNA",53,2149,{fam:DEJA,size:48,weight:"bold",fill:GOLD,rot:-90,len:114});

/* CCZ area legend */
txt(lg,"ccz-area-legend-title","CCZ area",1765,1490,{fam:DEJA,size:30,anchor:"start",len:150});
mk(lg,"rect",{x:1744,y:1517,width:272,height:231,rx:5,fill:"#fff",stroke:"#d4d4d4","stroke-width":2.5},"ccz-area-legend-box");
const areaRowY=[1541,1585.5,1630,1674,1719];
areaNames.forEach((n,i)=>{
  mk(lg,"rect",{x:1755,y:areaRowY[i]-12,width:62,height:24,fill:areaColors[n]},"ccz-area-legend-"+slug(n)+"-swatch");
  txt(lg,"ccz-area-legend-"+slug(n)+"-label",n,1840,areaRowY[i],{fam:DEJA,size:29,anchor:"start"});
});
/* Region legend */
txt(lg,"region-scatter-legend-title","Region",1765,2029.5,{fam:DEJA,size:30,anchor:"start",len:110});
mk(lg,"rect",{x:1742,y:2059,width:336,height:249,rx:5,fill:"#fff",stroke:"#d4d4d4","stroke-width":2.5},"region-scatter-legend-box");
const regionRowY=[2081,2121.5,2161,2202,2242,2282];
legendRegions.forEach((n,i)=>{
  mk(lg,"rect",{x:1751,y:regionRowY[i]-11,width:57,height:22,fill:regionColors[n]},"region-scatter-legend-"+slug(n)+"-swatch");
  txt(lg,"region-scatter-legend-"+slug(n)+"-label",n,1827,regionRowY[i],{fam:DEJA,size:27.5,anchor:"start"});
});
</script>
</body>
</html>
